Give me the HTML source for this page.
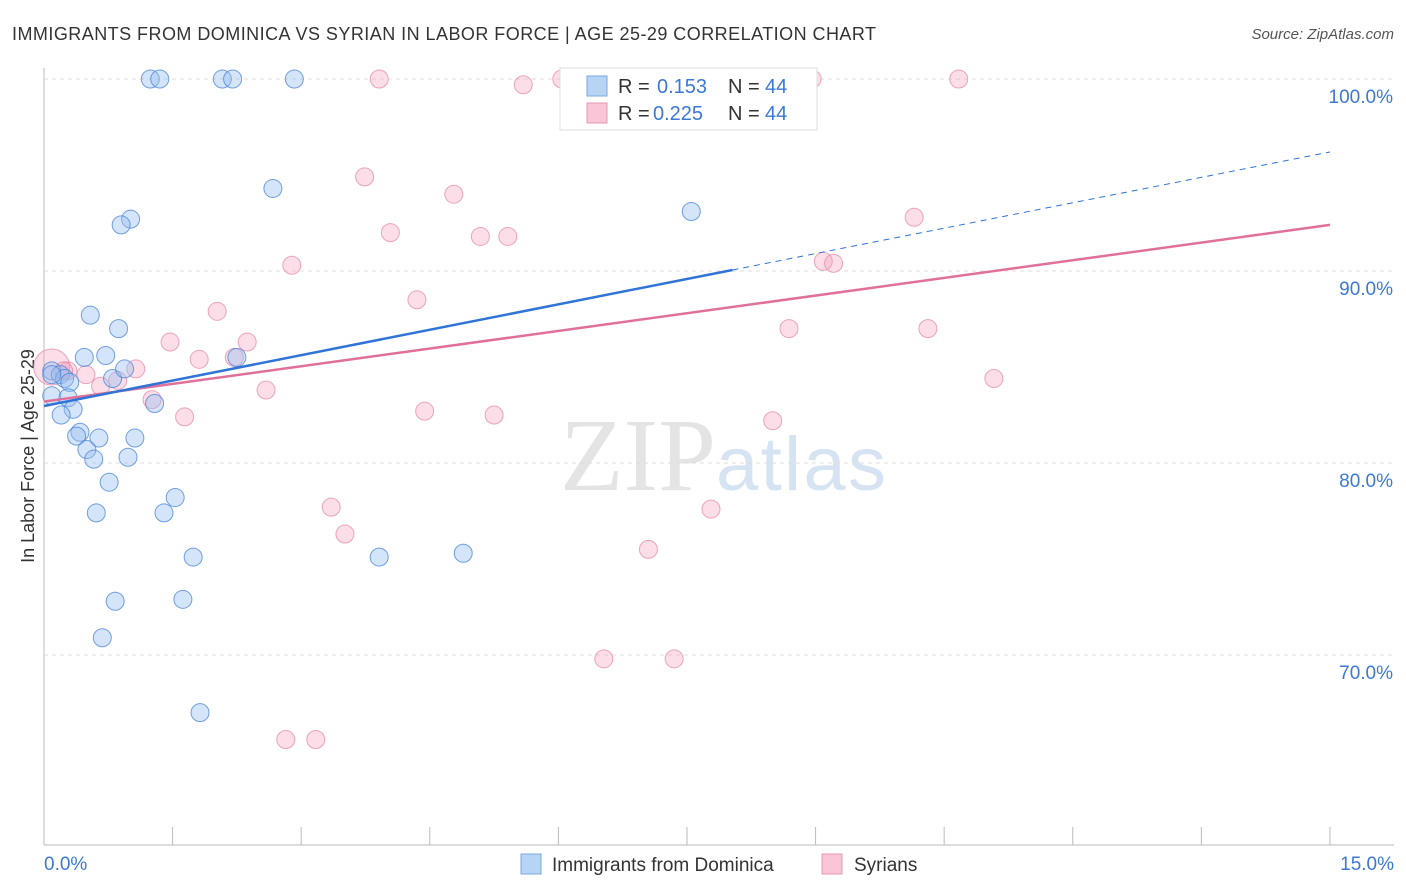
<!DOCTYPE html>
<html><head><meta charset="utf-8"><style>
body{margin:0;background:#fff;font-family:"Liberation Sans",sans-serif;}
#wrap{position:relative;width:1406px;height:892px;overflow:hidden;}
</style></head><body>
<div id="wrap">
<svg id="svg" width="1406" height="892" xmlns="http://www.w3.org/2000/svg">
<text x="12" y="40" font-size="18" fill="#333" textLength="864" lengthAdjust="spacing">IMMIGRANTS FROM DOMINICA VS SYRIAN IN LABOR FORCE | AGE 25-29 CORRELATION CHART</text>
<text x="1394" y="39" font-size="15" fill="#555" font-style="italic" text-anchor="end">Source: ZipAtlas.com</text>
<text x="716" y="490" font-size="104" fill="#e4e4e4" text-anchor="end" font-family="Liberation Serif,serif">ZIP</text>
<text x="716" y="490" font-size="76" fill="#d5e3f3" textLength="170">atlas</text>
<text x="34" y="456" font-size="18" fill="#333" text-anchor="middle" transform="rotate(-90 34 456)">In Labor Force | Age 25-29</text>
<g id="grid"></g><g id="pts"></g><g id="lines"></g>
<g>
<rect x="560" y="68" width="257" height="62" fill="#fff" stroke="#ddd"/>
<rect x="587" y="76" width="20" height="20" fill="#b8d4f5" stroke="#7aa9e0"/>
<rect x="587" y="103" width="20" height="20" fill="#f8c6d6" stroke="#e897b3"/>
<text x="618" y="93" font-size="20" fill="#333">R =</text>
<text x="657" y="93" font-size="20" fill="#3b78d8">0.153</text>
<text x="728" y="93" font-size="20" fill="#333">N =</text>
<text x="765" y="93" font-size="20" fill="#3b78d8">44</text>
<text x="618" y="120" font-size="20" fill="#333">R =</text>
<text x="653" y="120" font-size="20" fill="#3b78d8">0.225</text>
<text x="728" y="120" font-size="20" fill="#333">N =</text>
<text x="765" y="120" font-size="20" fill="#3b78d8">44</text>
</g>
<g>
<rect x="521" y="854" width="20" height="20" fill="#b8d4f5" stroke="#7aa9e0"/>
<text x="552" y="871" font-size="19" fill="#333">Immigrants from Dominica</text>
<rect x="822" y="854" width="20" height="20" fill="#f8c6d6" stroke="#e897b3"/>
<text x="854" y="871" font-size="19" fill="#333">Syrians</text>
</g>
</svg>
</div>
<script>
const blueX=[1.24,1.35,2.08,2.20,2.92,2.67,1.01,0.90,7.55,0.54,0.87,0.47,0.72,2.25,0.09,0.19,0.24,0.80,0.94,0.30,0.09,0.28,0.34,0.20,1.29,0.42,0.38,0.64,1.06,0.50,0.58,0.98,0.76,1.53,0.61,1.40,1.74,3.91,4.89,0.83,1.62,0.68,1.82,0.09];
const blueY=[100,100,100,100,100,94.3,92.7,92.4,93.1,87.7,87.0,85.5,85.6,85.5,84.8,84.6,84.4,84.4,84.9,84.2,83.5,83.4,82.8,82.5,83.1,81.6,81.4,81.3,81.3,80.7,80.2,80.3,79.0,78.2,77.4,77.4,75.1,75.1,75.3,72.8,72.9,70.9,67.0,84.6];
const pinkX=[3.91,5.59,6.04,8.96,10.67,3.74,4.78,4.04,5.09,5.41,2.89,9.09,9.21,10.15,4.35,2.02,1.47,2.37,1.81,2.22,1.07,0.86,0.49,0.28,0.09,0.66,1.26,2.59,1.64,4.44,5.25,8.50,11.08,8.69,10.31,3.35,3.51,7.78,7.05,6.53,7.35,2.82,3.17,0.23];
const pinkY=[100,99.7,100,100,100,94.9,94.0,92.0,91.8,91.8,90.3,90.5,90.4,92.8,88.5,87.9,86.3,86.3,85.4,85.5,84.9,84.3,84.6,84.8,85.0,84.0,83.3,83.8,82.4,82.7,82.5,82.2,84.4,87.0,87.0,77.7,76.3,77.6,75.5,69.8,69.8,65.6,65.6,84.8];
const pinkR=[9,9,9,9,9,9,9,9,9,9,9,9,9,9,9,9,9,9,9,9,9,9,9,9,18,9,9,9,9,9,9,9,9,9,9,9,9,9,9,9,9,9,9,9];
const blueTrend=[82.97,96.2];
const pinkTrend=[83.2,92.4];
const blueSolidEnd=8.03;
const yTicks=[100,90,80,70];
const xTicks=[0,1.5,3,4.5,6,7.5,9,10.5,12,13.5,15];
const NS="http://www.w3.org/2000/svg";
const sx=v=>44+v*85.73, sy=v=>79+(100-v)*19.2;
function mk(t,a,p){const e=document.createElementNS(NS,t);for(const k in a)e.setAttribute(k,a[k]);p.appendChild(e);return e;}
const grid=document.getElementById('grid');
yTicks.forEach(t=>{
 const l=mk('line',{x1:44,x2:1394,y1:sy(t),y2:sy(t),stroke:'#ddd','stroke-dasharray':'4 4'},grid);
 
 
 const tx=mk('text',{x:1393,y:sy(t)+24,'font-size':19,fill:'#3b78d8','text-anchor':'end'},grid);tx.textContent=t.toFixed(1)+'%';
 
 
});
const ax=mk('line',{x1:44,x2:44,y1:68,y2:845,stroke:'#bbb'},grid);


const bx=mk('line',{x1:44,x2:1394,y1:845,y2:845,stroke:'#bbb'},grid);


xTicks.forEach(t=>{const l=mk('line',{x1:sx(t),x2:sx(t),y1:827,y2:845,stroke:'#bbb'},grid);
 
 });
[[0,'0.0%','start',44],[15,'15.0%','end',1394]].forEach(a=>{const t=mk('text',{x:a[3],y:870,'font-size':19,fill:'#3b78d8','text-anchor':a[2]},grid);t.textContent=a[1];
 
 });
const pts=document.getElementById('pts');
pinkX.forEach((x,i)=>{const c=mk('circle',{cx:sx(x),cy:sy(pinkY[i]),r:pinkR[i],fill:'rgba(244,160,188,0.35)',stroke:'rgba(230,130,165,0.7)','stroke-width':1},pts);
 
 });
blueX.forEach((x,i)=>{const c=mk('circle',{cx:sx(x),cy:sy(blueY[i]),r:9,fill:'rgba(150,190,240,0.4)',stroke:'rgba(70,130,215,0.75)','stroke-width':1},pts);
 
 });
const lines=document.getElementById('lines');
const bAt=x=>blueTrend[0]+(blueTrend[1]-blueTrend[0])*x/15;
const pl=mk('line',{x1:sx(0),y1:sy(pinkTrend[0]),x2:sx(15),y2:sy(pinkTrend[1]),stroke:'#e0709a','stroke-width':2.5},lines);


const bl=mk('line',{x1:sx(0),y1:sy(bAt(0)),x2:sx(blueSolidEnd),y2:sy(bAt(blueSolidEnd)),stroke:'#2f74d6','stroke-width':2.5},lines);


const bd=mk('line',{x1:sx(blueSolidEnd),y1:sy(bAt(blueSolidEnd)),x2:sx(15),y2:sy(bAt(15)),stroke:'#2f74d6','stroke-width':1,'stroke-dasharray':'6 5'},lines);


</script>
</body></html>
